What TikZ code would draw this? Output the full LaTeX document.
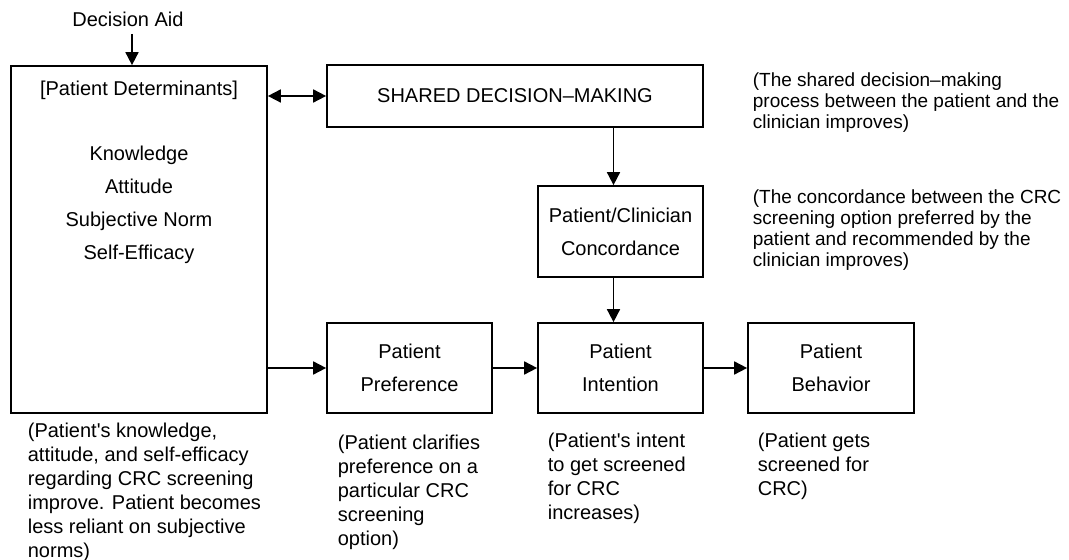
\documentclass[tikz,border=0pt]{standalone}
\usepackage{fontspec}
\setmainfont{Liberation Sans}
\usetikzlibrary{arrows.meta}

\begin{document}
\begin{tikzpicture}[x=0.5pt, y=-0.5pt, line width=0.85pt,
    >={Triangle[length=6.5pt,width=6.5pt]},
    box/.style={draw, align=center, inner sep=0pt,
      font=\fontsize{10}{16.5}\selectfont},
    stage/.style={box, minimum width=82.5pt, minimum height=45pt},
    note/.style={anchor=north west, align=left, inner sep=0pt,
      font=\fontsize{10}{12}\selectfont},
    sidenote/.style={note, font=\fontsize{9.5}{10.5}\selectfont}]
  \useasboundingbox (0,0) rectangle (1069,560);

  %%%%% boxes %%%%%
  \node[font=\fontsize{10}{12}\selectfont] (aid) at (128,19) {Decision Aid};
  \node[box, minimum width=128pt, minimum height=173.5pt] (det) at (139,239.5) {};
  \node[font=\fontsize{10}{12}\selectfont] (dettitle) at (139,90) {[Patient Determinants]};
  \node[align=center, font=\fontsize{10}{16.5}\selectfont] (detlist) at (139,205)
    {Knowledge\\Attitude\\Subjective Norm\\Self-Efficacy};

  \node[box, minimum width=188pt, minimum height=31pt] (sdm) at (515,96) {SHARED DECISION–MAKING};
  \node[stage, minimum height=45.5pt] (conc) at (620.5,231.5) {Patient/Clinician\\Concordance};
  \node[stage] (pref) at (409.5,368) {Patient\\Preference};
  \node[stage] (intent) at (620.5,368) {Patient\\Intention};
  \node[stage, minimum width=83pt] (behav) at (831,368) {Patient\\Behavior};

  %%%%% arrows %%%%%
  \draw[->] ([xshift=2pt]aid.south) -- ([xshift=2pt]aid.south |- det.north);
  \draw[<->] (det.east |- sdm.west) -- (sdm.west);
  \draw[->] ([xshift=-3.5pt]conc.north |- sdm.south) -- ([xshift=-3.5pt]conc.north);
  \draw[->] ([xshift=-3.5pt]conc.south) -- ([xshift=-3.5pt]intent.north);
  \draw[->] (det.east |- pref.west) -- (pref.west);
  \draw[->] (pref) -- (intent);
  \draw[->] (intent) -- (behav);

  %%%%% notes %%%%%
  \node[sidenote] (sdmnote) at (752,72)
    {(The shared decision–making\\process between the patient and the\\clinician improves)};
  \node[sidenote] (concnote) at (752,189)
    {(The concordance between the CRC\\screening option preferred by the\\patient and recommended by the\\clinician improves)};
  \node[note] (detnote) at (27,422)
    {(Patient\textquotesingle s knowledge,\\attitude, and self-efficacy\\regarding CRC screening\\improve. Patient becomes\\less reliant on subjective\\norms)};
  \node[note] (prefnote) at (337,434)
    {(Patient clarifies\\preference on a\\particular CRC\\screening\\option)};
  \node[note] (intentnote) at (547,432)
    {(Patient\textquotesingle s intent\\to get screened\\for CRC\\increases)};
  \node[note] (behavnote) at (757,432)
    {(Patient gets\\screened for\\CRC)};
\end{tikzpicture}
\end{document}
